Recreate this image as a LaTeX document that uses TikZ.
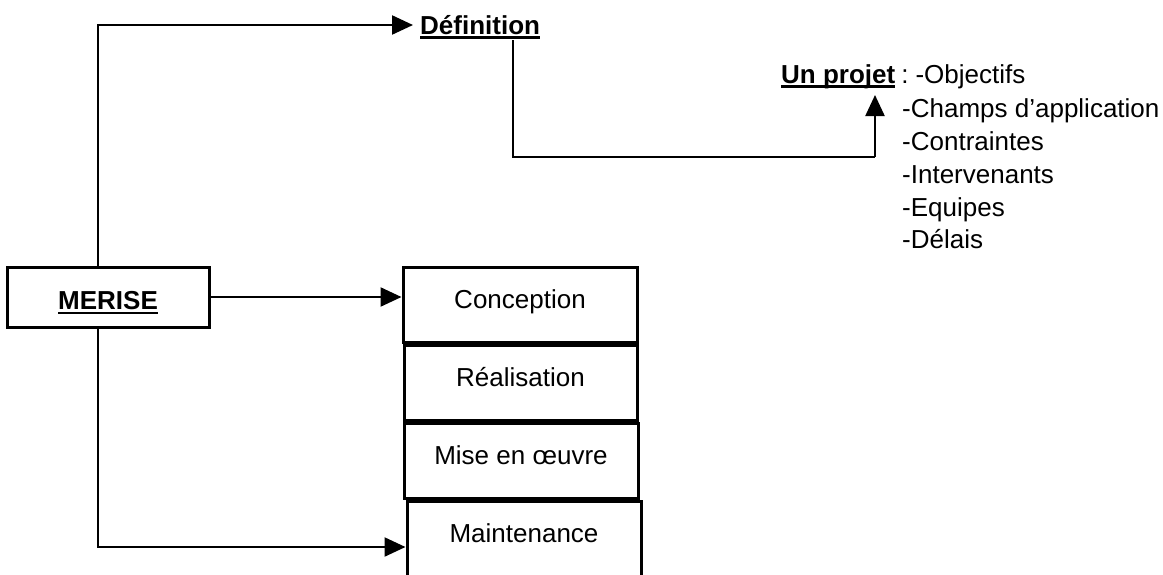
\documentclass[tikz,border=0pt]{standalone}
\usepackage{fontspec}
\setmainfont{Liberation Sans}
\usetikzlibrary{arrows.meta}
\newcommand{\ulx}[1]{{\setbox0\hbox{#1}\rlap{\rule[-4.6pt]{\wd0}{2.6pt}}\box0}}
\begin{document}
\begin{tikzpicture}[x=1pt,y=-1pt,
  conn/.style={line width=2.3pt},
  arr/.style={conn,-{Triangle[length=21pt,width=19pt]}},
  txt/.style={font=\fontsize{26}{32}\selectfont,inner sep=0pt},
  stage/.style={draw,line width=3pt,txt,minimum width=234pt,minimum height=75pt,text height=22pt,text depth=15pt},
]
\useasboundingbox (0,0) rectangle (1163,574);
\clip (0,0) rectangle (1163,574);

% boxes
\node[stage,minimum width=202pt,minimum height=60pt,text height=25pt,text depth=0pt] (merise) at (108,297) {\textbf{\ulx{MERISE}}};
\node[stage] (conc) at (520,304.5) {Conception};
\node[stage,minimum width=233pt] (real) at (520.5,382.5) {Réalisation};
\node[stage] (mise) at (521,460.5) {Mise en œuvre};
\node[stage,minimum height=76pt] (maint) at (524,539) {Maintenance};

% top texts
\node[txt,anchor=base west] (def) at (420,34) {\textbf{\ulx{Définition}}};
\node[txt,anchor=base west] (proj) at (781,83) {\textbf{\ulx{Un projet}}\hspace{6pt}:\hspace{7pt}-Objectifs};
\node[txt,anchor=base west] (i1) at (902,117) {-Champs d'application};
\node[txt,anchor=base west] (i2) at (902,150) {-Contraintes};
\node[txt,anchor=base west] (i3) at (902,183) {-Intervenants};
\node[txt,anchor=base west] (i4) at (902,216) {-Equipes};
\node[txt,anchor=base west] (i5) at (902,248) {-Délais};

% connectors
\coordinate (deftip) at (413,25);
\draw[arr] ([xshift=-10pt]merise.north) |- (deftip);
\draw[arr] (merise.east) -- (merise.east -| conc.west);
\draw[arr] ([xshift=-10pt]merise.south) |- ([yshift=-8pt]maint.west);
\coordinate (ddrop) at (513,40);
\coordinate (corner) at (875,157);
\coordinate (projtip) at (875,95);
\draw[conn] (ddrop) |- (corner);
\draw[arr] (corner) -- (projtip);
\end{tikzpicture}
\end{document}
